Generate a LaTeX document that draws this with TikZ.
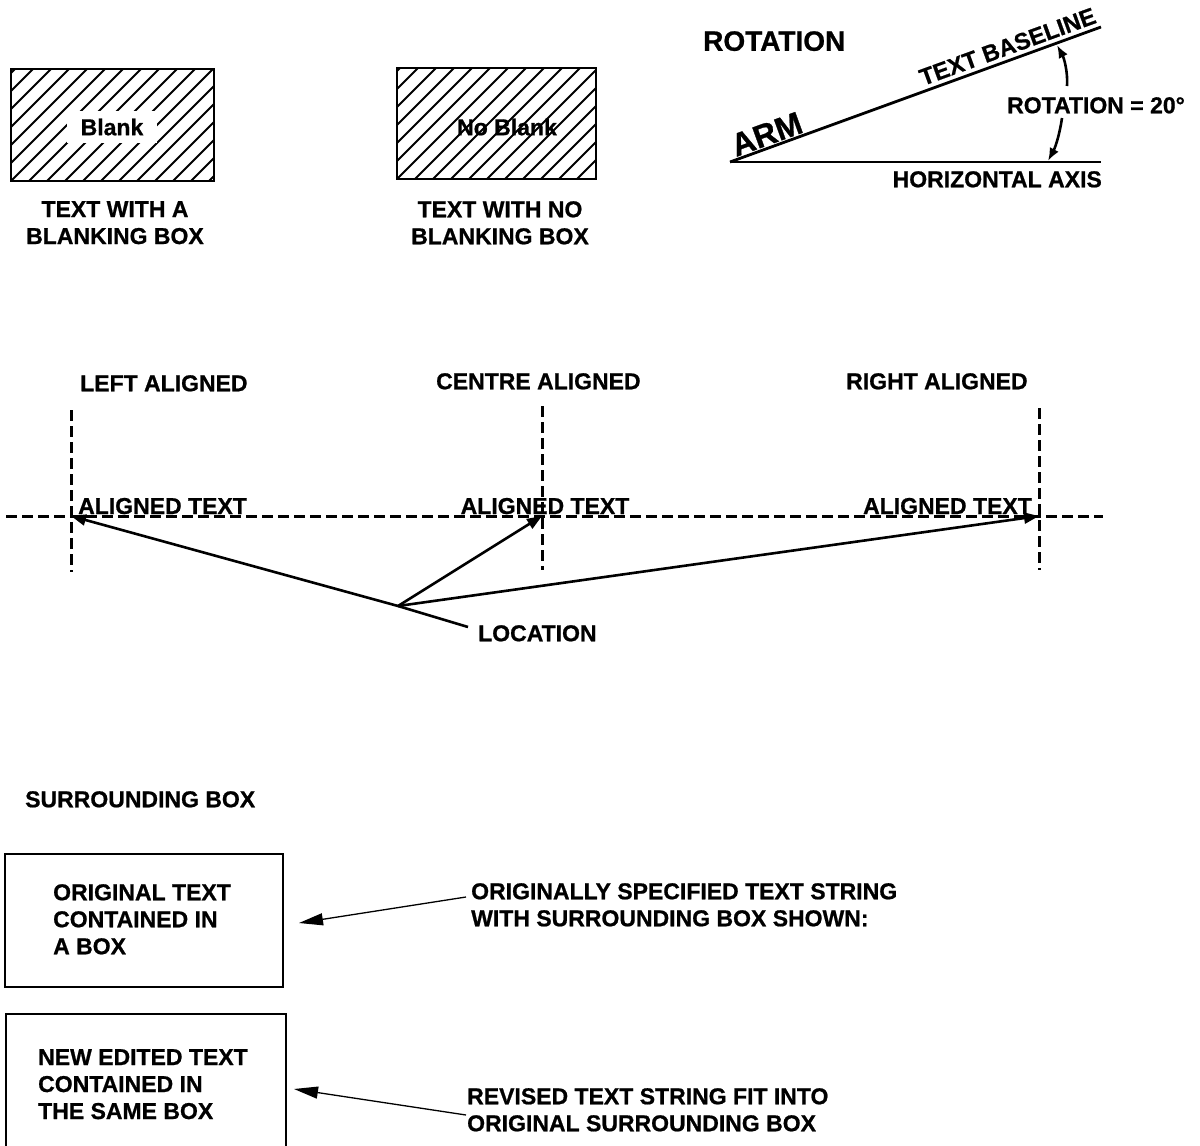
\documentclass[tikz,border=0pt]{standalone}
\usepackage{fontspec}
\setmainfont{Liberation Sans}[BoldFeatures={FakeBold=0.8}]
\usetikzlibrary{arrows.meta}
\begin{document}
\begin{tikzpicture}[x=1pt,y=-1pt,
  lbl/.style={font=\fontsize{23}{27}\selectfont\bfseries, inner sep=0pt, align=left},
  lblc/.style={lbl, align=center},
  frame/.style={draw=black, line width=2.4pt},
  thinframe/.style={draw=black, line width=1.3pt},
  hatch/.style={line width=1.8pt},
  guide/.style={line width=3pt, dash pattern=on 11pt off 5pt},
  ray/.style={line width=2.6pt, -{Triangle[length=15pt,width=11pt]}},
  bigray/.style={line width=1.3pt, -{Triangle[length=24pt,width=12pt]}},
  arcarrow/.style={line width=2.6pt, -{Latex[length=13pt,width=10pt]}}]

\useasboundingbox (0,0) rectangle (1200,1146);

% ---------- blanking box examples ----------
\begin{scope}
  \clip (11,69) rectangle (214,181);
  \foreach \k in {-7,...,12} \draw[hatch] (11+18*\k,181) -- ++(112,-112);
\end{scope}
\node[lbl, fill=white, inner xsep=14pt, inner ysep=8pt] (blank) at (112,127) {Blank};
\draw[frame] (11,69) rectangle (214,181);

\begin{scope}
  \clip (397,68) rectangle (596,179);
  \foreach \k in {-7,...,12} \draw[hatch] (397+18*\k,179) -- ++(111,-111);
\end{scope}
\node[lbl] (noblank) at (507,127) {No Blank};
\draw[frame] (397,68) rectangle (596,179);

\node[lblc, anchor=north] (capA) at (115,201) {TEXT WITH A\\BLANKING BOX};
\node[lblc, anchor=north] (capB) at (500,201) {TEXT WITH NO\\BLANKING BOX};

% ---------- rotation ----------
\node[lbl, font=\fontsize{28}{31}\selectfont\bfseries, anchor=north west] (rottitle) at (703,31) {ROTATION};
\coordinate (vtx) at (730,162);
\coordinate (armend) at (1101,27);
\coordinate (axisend) at (1101,162);
\draw[line width=2.8pt] (vtx) -- (armend);
\draw[line width=2.8pt] (vtx) -- (axisend);
\node[lbl, font=\fontsize{32}{35}\selectfont\bfseries, anchor=base west, rotate=20] (arm) at (736,157) {ARM};
\node[lbl, font=\fontsize{23.5}{27}\selectfont\bfseries, anchor=base west, rotate=20] (baseline) at (923,86) {TEXT BASELINE};
\node[lbl, anchor=north west] (rotval) at (1007,97) {ROTATION = 20°};
\node[lbl, anchor=north east] (haxis) at (1102,171) {HORIZONTAL AXIS};
\coordinate (upA) at (1067,86);
\coordinate (upB) at (1057,45);
\coordinate (dnA) at (1062,118);
\coordinate (dnB) at (1048,161);
\draw[arcarrow] (upA) .. controls (1068,72) and (1064,58) .. (upB);
\draw[arcarrow] (dnA) .. controls (1060,132) and (1056,146) .. (dnB);

% ---------- alignment ----------
\node[lbl, anchor=north west] (lefth) at (80,375) {LEFT ALIGNED};
\node[lbl, anchor=north west] (centreh) at (436,373) {CENTRE ALIGNED};
\node[lbl, anchor=north west] (righth) at (846,373) {RIGHT ALIGNED};

\coordinate (gl0) at (6,516);
\coordinate (gl1) at (1103,516);
\draw[guide] (gl0) -- (gl1);
\coordinate (vl0) at (71,410);   \coordinate (vl1) at (71,572);
\coordinate (vc0) at (542,406);  \coordinate (vc1) at (542,570);
\coordinate (vr0) at (1039,408); \coordinate (vr1) at (1039,570);
\draw[guide] (vl0) -- (vl1);
\draw[guide] (vc0) -- (vc1);
\draw[guide] (vr0) -- (vr1);

\node[lbl, anchor=base west] (atl) at (78,514) {ALIGNED TEXT};
\node[lbl, anchor=base] (atc) at (545,514) {ALIGNED TEXT};
\node[lbl, anchor=base east] (atr) at (1032,514) {ALIGNED TEXT};

\coordinate (loc) at (398,606);
\coordinate (tipl) at (71,516);
\coordinate (tipc) at (542,516);
\coordinate (tipr) at (1039,516);
\draw[ray] (loc) -- (tipl);
\draw[ray] (loc) -- (tipc);
\draw[ray] (loc) -- (tipr);
\node[lbl, anchor=north west] (location) at (478,625) {LOCATION};
\coordinate (locleader) at (468,627);
\draw[line width=2.6pt] (loc) -- (locleader);

% ---------- surrounding box ----------
\node[lbl, anchor=north west] (surr) at (25,791) {SURROUNDING BOX};
\draw[thinframe] (5,854) rectangle (283,987);
\node[lbl, anchor=north west] (origtxt) at (53,884) {ORIGINAL TEXT\\CONTAINED IN\\A BOX};
\draw[thinframe] (6,1014) rectangle (286,1160);
\node[lbl, anchor=north west] (newtxt) at (38,1049) {NEW EDITED TEXT\\CONTAINED IN\\THE SAME BOX};

\node[lbl, anchor=north west] (orignote) at (471,883) {ORIGINALLY SPECIFIED TEXT STRING\\WITH SURROUNDING BOX SHOWN:};
\node[lbl, anchor=north west] (revnote) at (467,1088) {REVISED TEXT STRING FIT INTO\\ORIGINAL SURROUNDING BOX};
\coordinate (oa0) at (466,897); \coordinate (oa1) at (299,923);
\coordinate (ra0) at (466,1115); \coordinate (ra1) at (294,1089);
\draw[bigray] (oa0) -- (oa1);
\draw[bigray] (ra0) -- (ra1);
\end{tikzpicture}
\end{document}
